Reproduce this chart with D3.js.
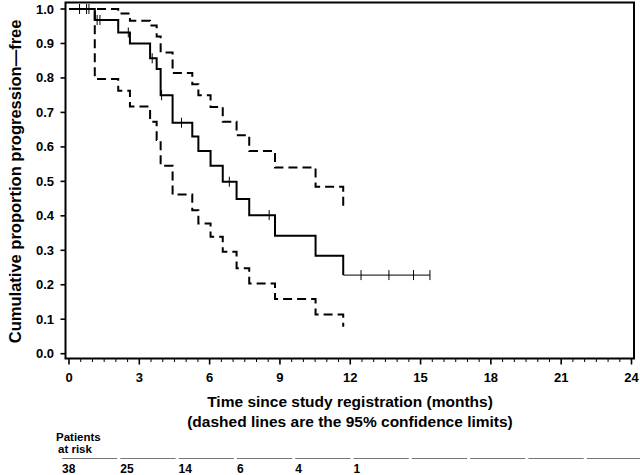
<!DOCTYPE html>
<html>
<head>
<meta charset="utf-8">
<script src="https://cdn.jsdelivr.net/npm/d3@7"></script>
<style>
  html, body { margin: 0; padding: 0; background: #fff; }
  svg { display: block; }
  text { font-family: "Liberation Sans", Arial, Helvetica, sans-serif; fill: #000; }
</style>
</head>
<body>
<svg id="chart" width="640" height="475"></svg>
<script>
// ---- data ----
const eventTimes = [0, 1.1, 2.1, 2.6, 3.46, 3.74, 3.91, 4.42, 5.26, 5.52, 6.04, 6.56, 7.15, 7.69, 8.79, 10.52, 11.7];
const survival   = [1.0, 0.968, 0.932, 0.90, 0.857, 0.826, 0.75, 0.67, 0.63, 0.588, 0.545, 0.499, 0.449, 0.402, 0.342, 0.284, 0.228];
const upperCI    = [1.0, 1.0, 0.987, 0.966, 0.952, 0.92, 0.874, 0.814, 0.782, 0.75, 0.716, 0.673, 0.634, 0.588, 0.54, 0.484, 0.428];
const lowerCI    = [1.0, 0.797, 0.763, 0.717, 0.673, 0.62, 0.545, 0.462, 0.416, 0.378, 0.339, 0.296, 0.248, 0.204, 0.159, 0.114, 0.078];
const censorTimes = [0.45, 0.75, 0.85, 1.2, 1.32, 2.53, 3.55, 3.95, 4.8, 6.84, 8.54, 12.46, 13.65, 14.7, 15.4];
const lastFollowUp = 15.4;
const xTicks = [0, 3, 6, 9, 12, 15, 18, 21, 24];
const yTicks = [0, 0.1, 0.2, 0.3, 0.4, 0.5, 0.6, 0.7, 0.8, 0.9, 1.0];
const riskCounts = ["38", "25", "14", "6", "4", "1"];
const riskColumns = 10;
const yTitle = "Cumulative proportion progression\u2014free";
const xTitle1 = "Time since study registration (months)";
const xTitle2 = "(dashed lines are the 95% confidence limits)";

// ---- layout ----
const svg = d3.select("#chart");
const frame = {left: 65.5, top: 2.5, right: 634, bottom: 358.5};
const x = d3.scaleLinear().domain([0, 24]).range([69, 631.5]);
const y = d3.scaleLinear().domain([0, 1]).range([353.7, 9]);

// frame
svg.append("rect")
  .attr("x", frame.left).attr("y", frame.top)
  .attr("width", frame.right - frame.left).attr("height", frame.bottom - frame.top)
  .attr("fill", "none").attr("stroke", "#000").attr("stroke-width", 2);

// x axis ticks (major + minor)
const minor = d3.range(0, 24.001, 0.5);
svg.append("g").selectAll("line").data(minor).join("line")
  .attr("x1", d => x(d)).attr("x2", d => x(d))
  .attr("y1", frame.bottom).attr("y2", d => (d % 3 === 0) ? frame.bottom + 6 : frame.bottom + 3.5)
  .attr("stroke", "#000").attr("stroke-width", d => (d % 3 === 0) ? 1.6 : 1);
svg.append("g").selectAll("text").data(xTicks).join("text")
  .attr("x", d => x(d)).attr("y", 381.5)
  .attr("text-anchor", "middle")
  .attr("font-size", 13).attr("font-weight", "bold")
  .text(d => d);

// y axis ticks
svg.append("g").selectAll("line").data(yTicks).join("line")
  .attr("x1", frame.left - 5).attr("x2", frame.left)
  .attr("y1", d => y(d)).attr("y2", d => y(d))
  .attr("stroke", "#000").attr("stroke-width", 1.6);
svg.append("g").selectAll("text").data(yTicks).join("text")
  .attr("x", 54).attr("y", d => y(d) + 4.5)
  .attr("text-anchor", "end")
  .attr("font-size", 13).attr("font-weight", "bold")
  .text(d => d3.format(".1f")(d));

// titles
svg.append("text")
  .attr("transform", "translate(21," + ((9 + 353.7) / 2) + ") rotate(-90)")
  .attr("text-anchor", "middle")
  .attr("font-size", 16.5).attr("font-weight", "bold")
  .text(yTitle);
svg.append("text").attr("x", 350).attr("y", 407)
  .attr("text-anchor", "middle").attr("font-size", 15.5).attr("font-weight", "bold")
  .text(xTitle1);
svg.append("text").attr("x", 350).attr("y", 427)
  .attr("text-anchor", "middle").attr("font-size", 15.5).attr("font-weight", "bold")
  .text(xTitle2);

// curves
const step = d3.line().x(d => x(d[0])).y(d => y(d[1])).curve(d3.curveStepAfter);
const kmPts = eventTimes.map((t, i) => [t, survival[i]]);
const upPts = eventTimes.map((t, i) => [t, upperCI[i]]);
const loPts = eventTimes.map((t, i) => [t, lowerCI[i]]);

svg.append("path").attr("d", step(upPts))
  .attr("fill", "none").attr("stroke", "#000").attr("stroke-width", 2).attr("stroke-dasharray", "9,5");
svg.append("path").attr("d", step(loPts))
  .attr("fill", "none").attr("stroke", "#000").attr("stroke-width", 2).attr("stroke-dasharray", "9,5");
svg.append("path").attr("d", step(kmPts))
  .attr("fill", "none").attr("stroke", "#000").attr("stroke-width", 2);
const lastS = survival[survival.length - 1];
const tail = [[eventTimes[eventTimes.length - 1], lastS], [lastFollowUp, lastS]];
svg.append("path").attr("d", d3.line().x(d => x(d[0])).y(d => y(d[1]))(tail))
  .attr("fill", "none").attr("stroke", "#000").attr("stroke-width", 1);

// censor marks
function survAt(t) {
  let s = survival[0];
  for (let i = 0; i < eventTimes.length; i++) if (eventTimes[i] <= t) s = survival[i];
  return s;
}
svg.append("g").selectAll("line").data(censorTimes).join("line")
  .attr("x1", d => x(d)).attr("x2", d => x(d))
  .attr("y1", d => y(survAt(d)) - 5).attr("y2", d => y(survAt(d)) + 5)
  .attr("stroke", "#000").attr("stroke-width", 1);

// patients at risk table
const col = d3.scaleLinear().domain([0, riskColumns]).range([61, 644]);
svg.append("text").attr("x", 56).attr("y", 440.5).attr("font-size", 11.5).attr("font-weight", "bold").text("Patients");
svg.append("text").attr("x", 58).attr("y", 452.5).attr("font-size", 11.5).attr("font-weight", "bold").text("at risk");
svg.append("g").selectAll("line").data(d3.range(riskColumns)).join("line")
  .attr("x1", d => col(d) + 1).attr("x2", d => col(d + 1) - 2)
  .attr("y1", 458.5).attr("y2", 458.5)
  .attr("stroke", "#777").attr("stroke-width", 1);
svg.append("g").selectAll("text").data(riskCounts).join("text")
  .attr("x", (d, i) => col(i) + 1).attr("y", 472.5)
  .attr("font-size", 12).attr("font-weight", "bold")
  .text(d => d);
</script>
</body>
</html>
